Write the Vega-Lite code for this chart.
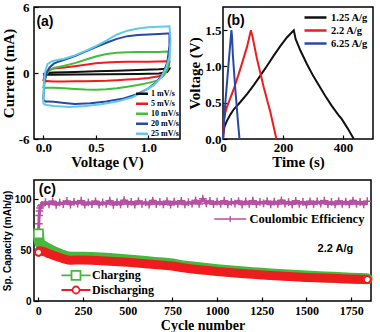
{
  "$schema": "https://vega.github.io/schema/vega-lite/v6.json",
  "background": "white",
  "padding": {"left": 0, "top": 0, "right": 0, "bottom": 0},
  "config": {
    "view": {"stroke": "black", "strokeWidth": 1.5},
    "axis": {
      "domain": false, "grid": false, "tickColor": "black", "tickWidth": 1.2, "tickSize": -4,
      "labelFont": "Liberation Serif", "labelFontWeight": "bold", "labelColor": "black", "labelFontSize": 13,
      "titleFont": "Liberation Serif", "titleFontWeight": "bold", "titleColor": "black", "titleFontSize": 15,
      "labelOverlap": false, "labelFlush": false
    },
    "legend": {"padding": 0, "labelFont": "Liberation Serif", "labelFontWeight": "bold", "labelColor": "black", "titlePadding": 0}
  },
  "datasets": {
    "cv": [
      {"rate": "1 mV/s", "k": 0, "v": 0, "i": -0.15}, {"rate": "1 mV/s", "k": 1, "v": 0.02, "i": 0.0}, {"rate": "1 mV/s", "k": 2, "v": 0.1, "i": 0.05}, {"rate": "1 mV/s", "k": 3, "v": 0.3, "i": 0.1}, {"rate": "1 mV/s", "k": 4, "v": 0.5, "i": 0.15}, {"rate": "1 mV/s", "k": 5, "v": 0.7, "i": 0.2}, {"rate": "1 mV/s", "k": 6, "v": 0.9, "i": 0.27}, {"rate": "1 mV/s", "k": 7, "v": 1.1, "i": 0.34}, {"rate": "1 mV/s", "k": 8, "v": 1.2, "i": 0.4}, {"rate": "1 mV/s", "k": 9, "v": 1.18, "i": 0.1}, {"rate": "1 mV/s", "k": 10, "v": 1.1, "i": -0.04}, {"rate": "1 mV/s", "k": 11, "v": 0.9, "i": -0.08}, {"rate": "1 mV/s", "k": 12, "v": 0.6, "i": -0.11}, {"rate": "1 mV/s", "k": 13, "v": 0.3, "i": -0.14}, {"rate": "1 mV/s", "k": 14, "v": 0.1, "i": -0.17}, {"rate": "1 mV/s", "k": 15, "v": 0, "i": -0.15},

      {"rate": "5 mV/s", "k": 0, "v": 0, "i": -0.75}, {"rate": "5 mV/s", "k": 1, "v": 0.01, "i": -0.3}, {"rate": "5 mV/s", "k": 2, "v": 0.03, "i": 0.1}, {"rate": "5 mV/s", "k": 3, "v": 0.06, "i": 0.3}, {"rate": "5 mV/s", "k": 4, "v": 0.1, "i": 0.4}, {"rate": "5 mV/s", "k": 5, "v": 0.2, "i": 0.5}, {"rate": "5 mV/s", "k": 6, "v": 0.3, "i": 0.62}, {"rate": "5 mV/s", "k": 7, "v": 0.4, "i": 0.75}, {"rate": "5 mV/s", "k": 8, "v": 0.5, "i": 0.88}, {"rate": "5 mV/s", "k": 9, "v": 0.6, "i": 0.95}, {"rate": "5 mV/s", "k": 10, "v": 0.7, "i": 1.0}, {"rate": "5 mV/s", "k": 11, "v": 0.8, "i": 1.02}, {"rate": "5 mV/s", "k": 12, "v": 0.9, "i": 1.02}, {"rate": "5 mV/s", "k": 13, "v": 1.0, "i": 1.03}, {"rate": "5 mV/s", "k": 14, "v": 1.1, "i": 1.05}, {"rate": "5 mV/s", "k": 15, "v": 1.17, "i": 1.06}, {"rate": "5 mV/s", "k": 16, "v": 1.2, "i": 1.0}, {"rate": "5 mV/s", "k": 17, "v": 1.19, "i": 0.5}, {"rate": "5 mV/s", "k": 18, "v": 1.16, "i": 0.0}, {"rate": "5 mV/s", "k": 19, "v": 1.1, "i": -0.3}, {"rate": "5 mV/s", "k": 20, "v": 1.0, "i": -0.45}, {"rate": "5 mV/s", "k": 21, "v": 0.9, "i": -0.55}, {"rate": "5 mV/s", "k": 22, "v": 0.8, "i": -0.6}, {"rate": "5 mV/s", "k": 23, "v": 0.7, "i": -0.65}, {"rate": "5 mV/s", "k": 24, "v": 0.6, "i": -0.7}, {"rate": "5 mV/s", "k": 25, "v": 0.5, "i": -0.72}, {"rate": "5 mV/s", "k": 26, "v": 0.4, "i": -0.74}, {"rate": "5 mV/s", "k": 27, "v": 0.3, "i": -0.76}, {"rate": "5 mV/s", "k": 28, "v": 0.2, "i": -0.78}, {"rate": "5 mV/s", "k": 29, "v": 0.1, "i": -0.77}, {"rate": "5 mV/s", "k": 30, "v": 0.03, "i": -0.72}, {"rate": "5 mV/s", "k": 31, "v": 0, "i": -0.75},

      {"rate": "10 mV/s", "k": 0, "v": 0, "i": -1.4}, {"rate": "10 mV/s", "k": 1, "v": 0.01, "i": -0.7}, {"rate": "10 mV/s", "k": 2, "v": 0.03, "i": -0.1}, {"rate": "10 mV/s", "k": 3, "v": 0.06, "i": 0.25}, {"rate": "10 mV/s", "k": 4, "v": 0.1, "i": 0.45}, {"rate": "10 mV/s", "k": 5, "v": 0.2, "i": 0.66}, {"rate": "10 mV/s", "k": 6, "v": 0.3, "i": 0.9}, {"rate": "10 mV/s", "k": 7, "v": 0.4, "i": 1.2}, {"rate": "10 mV/s", "k": 8, "v": 0.5, "i": 1.5}, {"rate": "10 mV/s", "k": 9, "v": 0.6, "i": 1.72}, {"rate": "10 mV/s", "k": 10, "v": 0.7, "i": 1.83}, {"rate": "10 mV/s", "k": 11, "v": 0.8, "i": 1.88}, {"rate": "10 mV/s", "k": 12, "v": 0.9, "i": 1.9}, {"rate": "10 mV/s", "k": 13, "v": 1.0, "i": 1.9}, {"rate": "10 mV/s", "k": 14, "v": 1.1, "i": 1.9}, {"rate": "10 mV/s", "k": 15, "v": 1.17, "i": 1.95}, {"rate": "10 mV/s", "k": 16, "v": 1.2, "i": 1.9}, {"rate": "10 mV/s", "k": 17, "v": 1.2, "i": 1.2}, {"rate": "10 mV/s", "k": 18, "v": 1.18, "i": 0.3}, {"rate": "10 mV/s", "k": 19, "v": 1.14, "i": -0.3}, {"rate": "10 mV/s", "k": 20, "v": 1.08, "i": -0.7}, {"rate": "10 mV/s", "k": 21, "v": 1.0, "i": -0.9}, {"rate": "10 mV/s", "k": 22, "v": 0.9, "i": -1.1}, {"rate": "10 mV/s", "k": 23, "v": 0.8, "i": -1.25}, {"rate": "10 mV/s", "k": 24, "v": 0.7, "i": -1.38}, {"rate": "10 mV/s", "k": 25, "v": 0.6, "i": -1.47}, {"rate": "10 mV/s", "k": 26, "v": 0.5, "i": -1.52}, {"rate": "10 mV/s", "k": 27, "v": 0.4, "i": -1.5}, {"rate": "10 mV/s", "k": 28, "v": 0.3, "i": -1.45}, {"rate": "10 mV/s", "k": 29, "v": 0.2, "i": -1.38}, {"rate": "10 mV/s", "k": 30, "v": 0.1, "i": -1.35}, {"rate": "10 mV/s", "k": 31, "v": 0.03, "i": -1.35}, {"rate": "10 mV/s", "k": 32, "v": 0, "i": -1.4},

      {"rate": "20 mV/s", "k": 0, "v": 0, "i": -2.4}, {"rate": "20 mV/s", "k": 1, "v": 0.01, "i": -1.0}, {"rate": "20 mV/s", "k": 2, "v": 0.03, "i": 0.0}, {"rate": "20 mV/s", "k": 3, "v": 0.06, "i": 0.5}, {"rate": "20 mV/s", "k": 4, "v": 0.1, "i": 0.85}, {"rate": "20 mV/s", "k": 5, "v": 0.15, "i": 1.05}, {"rate": "20 mV/s", "k": 6, "v": 0.2, "i": 1.2}, {"rate": "20 mV/s", "k": 7, "v": 0.3, "i": 1.55}, {"rate": "20 mV/s", "k": 8, "v": 0.4, "i": 1.95}, {"rate": "20 mV/s", "k": 9, "v": 0.5, "i": 2.35}, {"rate": "20 mV/s", "k": 10, "v": 0.6, "i": 2.75}, {"rate": "20 mV/s", "k": 11, "v": 0.7, "i": 3.1}, {"rate": "20 mV/s", "k": 12, "v": 0.8, "i": 3.35}, {"rate": "20 mV/s", "k": 13, "v": 0.9, "i": 3.45}, {"rate": "20 mV/s", "k": 14, "v": 1.0, "i": 3.5}, {"rate": "20 mV/s", "k": 15, "v": 1.1, "i": 3.55}, {"rate": "20 mV/s", "k": 16, "v": 1.18, "i": 3.6}, {"rate": "20 mV/s", "k": 17, "v": 1.2, "i": 3.6}, {"rate": "20 mV/s", "k": 18, "v": 1.2, "i": 2.5}, {"rate": "20 mV/s", "k": 19, "v": 1.18, "i": 1.0}, {"rate": "20 mV/s", "k": 20, "v": 1.14, "i": 0.0}, {"rate": "20 mV/s", "k": 21, "v": 1.08, "i": -0.8}, {"rate": "20 mV/s", "k": 22, "v": 1.0, "i": -1.4}, {"rate": "20 mV/s", "k": 23, "v": 0.9, "i": -1.9}, {"rate": "20 mV/s", "k": 24, "v": 0.75, "i": -2.35}, {"rate": "20 mV/s", "k": 25, "v": 0.6, "i": -2.6}, {"rate": "20 mV/s", "k": 26, "v": 0.45, "i": -2.75}, {"rate": "20 mV/s", "k": 27, "v": 0.3, "i": -2.82}, {"rate": "20 mV/s", "k": 28, "v": 0.2, "i": -2.72}, {"rate": "20 mV/s", "k": 29, "v": 0.1, "i": -2.62}, {"rate": "20 mV/s", "k": 30, "v": 0.05, "i": -2.6}, {"rate": "20 mV/s", "k": 31, "v": 0.02, "i": -2.6}, {"rate": "20 mV/s", "k": 32, "v": 0, "i": -2.4},

      {"rate": "25 mV/s", "k": 0, "v": 0, "i": -2.8}, {"rate": "25 mV/s", "k": 1, "v": 0.005, "i": -1.5}, {"rate": "25 mV/s", "k": 2, "v": 0.015, "i": 0.0}, {"rate": "25 mV/s", "k": 3, "v": 0.04, "i": 0.8}, {"rate": "25 mV/s", "k": 4, "v": 0.08, "i": 1.05}, {"rate": "25 mV/s", "k": 5, "v": 0.12, "i": 1.15}, {"rate": "25 mV/s", "k": 6, "v": 0.2, "i": 1.3}, {"rate": "25 mV/s", "k": 7, "v": 0.3, "i": 1.6}, {"rate": "25 mV/s", "k": 8, "v": 0.4, "i": 2.0}, {"rate": "25 mV/s", "k": 9, "v": 0.5, "i": 2.45}, {"rate": "25 mV/s", "k": 10, "v": 0.6, "i": 2.95}, {"rate": "25 mV/s", "k": 11, "v": 0.7, "i": 3.5}, {"rate": "25 mV/s", "k": 12, "v": 0.8, "i": 3.85}, {"rate": "25 mV/s", "k": 13, "v": 0.9, "i": 4.05}, {"rate": "25 mV/s", "k": 14, "v": 1.0, "i": 4.15}, {"rate": "25 mV/s", "k": 15, "v": 1.1, "i": 4.2}, {"rate": "25 mV/s", "k": 16, "v": 1.2, "i": 4.25}, {"rate": "25 mV/s", "k": 17, "v": 1.21, "i": 3.0}, {"rate": "25 mV/s", "k": 18, "v": 1.2, "i": 1.5}, {"rate": "25 mV/s", "k": 19, "v": 1.17, "i": 0.5}, {"rate": "25 mV/s", "k": 20, "v": 1.12, "i": -0.4}, {"rate": "25 mV/s", "k": 21, "v": 1.05, "i": -1.1}, {"rate": "25 mV/s", "k": 22, "v": 0.95, "i": -1.7}, {"rate": "25 mV/s", "k": 23, "v": 0.85, "i": -2.2}, {"rate": "25 mV/s", "k": 24, "v": 0.7, "i": -2.6}, {"rate": "25 mV/s", "k": 25, "v": 0.55, "i": -2.85}, {"rate": "25 mV/s", "k": 26, "v": 0.4, "i": -3.0}, {"rate": "25 mV/s", "k": 27, "v": 0.25, "i": -3.08}, {"rate": "25 mV/s", "k": 28, "v": 0.1, "i": -3.0}, {"rate": "25 mV/s", "k": 29, "v": 0.03, "i": -2.9}, {"rate": "25 mV/s", "k": 30, "v": 0, "i": -2.8}
    ],
    "gcd": [
      {"cur": "1.25 A/g", "k": 0, "t": 0, "v": 0}, {"cur": "1.25 A/g", "k": 1, "t": 2, "v": 0.1}, {"cur": "1.25 A/g", "k": 2, "t": 5, "v": 0.17}, {"cur": "1.25 A/g", "k": 3, "t": 13, "v": 0.25}, {"cur": "1.25 A/g", "k": 4, "t": 25, "v": 0.34}, {"cur": "1.25 A/g", "k": 5, "t": 36, "v": 0.41}, {"cur": "1.25 A/g", "k": 6, "t": 58, "v": 0.51}, {"cur": "1.25 A/g", "k": 7, "t": 80, "v": 0.62}, {"cur": "1.25 A/g", "k": 8, "t": 102, "v": 0.74}, {"cur": "1.25 A/g", "k": 9, "t": 124, "v": 0.87}, {"cur": "1.25 A/g", "k": 10, "t": 147, "v": 1.01}, {"cur": "1.25 A/g", "k": 11, "t": 169, "v": 1.15}, {"cur": "1.25 A/g", "k": 12, "t": 191, "v": 1.28}, {"cur": "1.25 A/g", "k": 13, "t": 213, "v": 1.4}, {"cur": "1.25 A/g", "k": 14, "t": 236, "v": 1.5}, {"cur": "1.25 A/g", "k": 15, "t": 238, "v": 1.46}, {"cur": "1.25 A/g", "k": 16, "t": 242, "v": 1.38}, {"cur": "1.25 A/g", "k": 17, "t": 258, "v": 1.22}, {"cur": "1.25 A/g", "k": 18, "t": 280, "v": 1.03}, {"cur": "1.25 A/g", "k": 19, "t": 302, "v": 0.86}, {"cur": "1.25 A/g", "k": 20, "t": 318, "v": 0.75}, {"cur": "1.25 A/g", "k": 21, "t": 340, "v": 0.6}, {"cur": "1.25 A/g", "k": 22, "t": 362, "v": 0.46}, {"cur": "1.25 A/g", "k": 23, "t": 385, "v": 0.33}, {"cur": "1.25 A/g", "k": 24, "t": 395, "v": 0.28}, {"cur": "1.25 A/g", "k": 25, "t": 415, "v": 0.15}, {"cur": "1.25 A/g", "k": 26, "t": 436, "v": 0},
      {"cur": "2.2 A/g", "k": 0, "t": 0, "v": 0}, {"cur": "2.2 A/g", "k": 1, "t": 2, "v": 0.2}, {"cur": "2.2 A/g", "k": 2, "t": 4, "v": 0.28}, {"cur": "2.2 A/g", "k": 3, "t": 8, "v": 0.37}, {"cur": "2.2 A/g", "k": 4, "t": 13, "v": 0.44}, {"cur": "2.2 A/g", "k": 5, "t": 24, "v": 0.56}, {"cur": "2.2 A/g", "k": 6, "t": 36, "v": 0.69}, {"cur": "2.2 A/g", "k": 7, "t": 58, "v": 0.97}, {"cur": "2.2 A/g", "k": 8, "t": 80, "v": 1.27}, {"cur": "2.2 A/g", "k": 9, "t": 93, "v": 1.5}, {"cur": "2.2 A/g", "k": 10, "t": 95, "v": 1.46}, {"cur": "2.2 A/g", "k": 11, "t": 98, "v": 1.42}, {"cur": "2.2 A/g", "k": 12, "t": 113, "v": 1.11}, {"cur": "2.2 A/g", "k": 13, "t": 136, "v": 0.71}, {"cur": "2.2 A/g", "k": 14, "t": 158, "v": 0.37}, {"cur": "2.2 A/g", "k": 15, "t": 178, "v": 0},
      {"cur": "6.25 A/g", "k": 0, "t": 0, "v": 0}, {"cur": "6.25 A/g", "k": 1, "t": 3, "v": 0.2}, {"cur": "6.25 A/g", "k": 2, "t": 7, "v": 0.46}, {"cur": "6.25 A/g", "k": 3, "t": 19, "v": 1.06}, {"cur": "6.25 A/g", "k": 4, "t": 28, "v": 1.5}, {"cur": "6.25 A/g", "k": 5, "t": 30, "v": 1.42}, {"cur": "6.25 A/g", "k": 6, "t": 33, "v": 1.15}, {"cur": "6.25 A/g", "k": 7, "t": 41, "v": 0.69}, {"cur": "6.25 A/g", "k": 8, "t": 49, "v": 0.28}, {"cur": "6.25 A/g", "k": 9, "t": 55, "v": 0}
    ],
    "cap": [
      {"cycle": 1, "charging": 66, "discharging": 48}, {"cycle": 5, "charging": 59, "discharging": 49.5}, {"cycle": 10, "charging": 56.5, "discharging": 49.5}, {"cycle": 20, "charging": 55, "discharging": 49}, {"cycle": 30, "charging": 53.8, "discharging": 48.5}, {"cycle": 40, "charging": 52.8, "discharging": 48}, {"cycle": 50, "charging": 51.8, "discharging": 47.2}, {"cycle": 60, "charging": 50.9, "discharging": 46.5}, {"cycle": 70, "charging": 50, "discharging": 45.9}, {"cycle": 80, "charging": 49.1, "discharging": 45.2}, {"cycle": 90, "charging": 48.3, "discharging": 44.6}, {"cycle": 100, "charging": 47.5, "discharging": 44}, {"cycle": 110, "charging": 46.8, "discharging": 43.4}, {"cycle": 120, "charging": 46.1, "discharging": 42.8}, {"cycle": 130, "charging": 45.4, "discharging": 42.2}, {"cycle": 140, "charging": 44.7, "discharging": 41.6}, {"cycle": 150, "charging": 44.1, "discharging": 41.1}, {"cycle": 160, "charging": 43.6, "discharging": 40.6}, {"cycle": 170, "charging": 43.2, "discharging": 40.2}, {"cycle": 180, "charging": 43, "discharging": 40}, {"cycle": 190, "charging": 43, "discharging": 40.1}, {"cycle": 200, "charging": 43.1, "discharging": 40.3}, {"cycle": 250, "charging": 43.1, "discharging": 40.4}, {"cycle": 300, "charging": 42.7, "discharging": 40.1}, {"cycle": 350, "charging": 42.2, "discharging": 39.7}, {"cycle": 400, "charging": 41.7, "discharging": 39.2}, {"cycle": 450, "charging": 41.1, "discharging": 38.7}, {"cycle": 500, "charging": 40.4, "discharging": 38.1}, {"cycle": 550, "charging": 39.6, "discharging": 37.4}, {"cycle": 600, "charging": 38.8, "discharging": 36.6}, {"cycle": 650, "charging": 38, "discharging": 35.9}, {"cycle": 700, "charging": 37.3, "discharging": 35.2}, {"cycle": 750, "charging": 36.4, "discharging": 34.4}, {"cycle": 800, "charging": 34.8, "discharging": 32.9}, {"cycle": 850, "charging": 33.7, "discharging": 31.8}, {"cycle": 900, "charging": 32.7, "discharging": 30.8}, {"cycle": 950, "charging": 31.7, "discharging": 29.9}, {"cycle": 1000, "charging": 30.8, "discharging": 29}, {"cycle": 1050, "charging": 30, "discharging": 28.3}, {"cycle": 1100, "charging": 29.3, "discharging": 27.6}, {"cycle": 1150, "charging": 28.6, "discharging": 26.9}, {"cycle": 1200, "charging": 27.9, "discharging": 26.3}, {"cycle": 1250, "charging": 27.2, "discharging": 25.6}, {"cycle": 1300, "charging": 26.6, "discharging": 25}, {"cycle": 1350, "charging": 26, "discharging": 24.5}, {"cycle": 1400, "charging": 25.5, "discharging": 24}, {"cycle": 1450, "charging": 25, "discharging": 23.6}, {"cycle": 1500, "charging": 24.5, "discharging": 23.2}, {"cycle": 1550, "charging": 24.1, "discharging": 22.9}, {"cycle": 1600, "charging": 23.7, "discharging": 22.6}, {"cycle": 1650, "charging": 23.3, "discharging": 22.3}, {"cycle": 1700, "charging": 22.9, "discharging": 22}, {"cycle": 1750, "charging": 22.5, "discharging": 21.7}, {"cycle": 1800, "charging": 22.1, "discharging": 21.4}, {"cycle": 1840, "charging": 21.8, "discharging": 21.2}
    ],
    "ce": [
      {"cycle": 1, "ce": 64}, {"cycle": 3, "ce": 76}, {"cycle": 5, "ce": 84}, {"cycle": 7, "ce": 88.5}, {"cycle": 10, "ce": 91.5}, {"cycle": 14, "ce": 93.5},
      {"cycle": 20, "ce": 94.5}, {"cycle": 40, "ce": 97.2}, {"cycle": 60, "ce": 95.1}, {"cycle": 80, "ce": 98.0}, {"cycle": 100, "ce": 94.6}, {"cycle": 120, "ce": 96.8}, {"cycle": 140, "ce": 95.3}, {"cycle": 160, "ce": 98.4}, {"cycle": 180, "ce": 94.9}, {"cycle": 200, "ce": 97.5},
      {"cycle": 220, "ce": 95.8}, {"cycle": 240, "ce": 98.6}, {"cycle": 260, "ce": 94.7}, {"cycle": 280, "ce": 97.0}, {"cycle": 300, "ce": 95.2}, {"cycle": 320, "ce": 98.1}, {"cycle": 340, "ce": 94.8}, {"cycle": 360, "ce": 96.9}, {"cycle": 380, "ce": 95.5}, {"cycle": 400, "ce": 98.7},
      {"cycle": 420, "ce": 94.6}, {"cycle": 440, "ce": 97.3}, {"cycle": 460, "ce": 95.0}, {"cycle": 480, "ce": 99.2}, {"cycle": 500, "ce": 95.4}, {"cycle": 520, "ce": 97.6}, {"cycle": 540, "ce": 94.9}, {"cycle": 560, "ce": 98.3}, {"cycle": 580, "ce": 95.6}, {"cycle": 600, "ce": 97.1},
      {"cycle": 620, "ce": 94.8}, {"cycle": 640, "ce": 98.8}, {"cycle": 660, "ce": 95.3}, {"cycle": 680, "ce": 97.4}, {"cycle": 700, "ce": 95.1}, {"cycle": 720, "ce": 98.2}, {"cycle": 740, "ce": 94.7}, {"cycle": 760, "ce": 97.8}, {"cycle": 780, "ce": 95.5}, {"cycle": 800, "ce": 98.5},
      {"cycle": 820, "ce": 95.0}, {"cycle": 840, "ce": 97.2}, {"cycle": 860, "ce": 95.7}, {"cycle": 880, "ce": 98.9}, {"cycle": 900, "ce": 95.4}, {"cycle": 920, "ce": 100.6}, {"cycle": 940, "ce": 96.0}, {"cycle": 960, "ce": 98.4}, {"cycle": 980, "ce": 95.2}, {"cycle": 1000, "ce": 97.7},
      {"cycle": 1020, "ce": 95.6}, {"cycle": 1040, "ce": 98.6}, {"cycle": 1060, "ce": 95.1}, {"cycle": 1080, "ce": 97.5}, {"cycle": 1100, "ce": 95.8}, {"cycle": 1120, "ce": 98.3}, {"cycle": 1140, "ce": 94.9}, {"cycle": 1160, "ce": 97.9}, {"cycle": 1180, "ce": 95.5}, {"cycle": 1200, "ce": 98.7},
      {"cycle": 1220, "ce": 95.2}, {"cycle": 1240, "ce": 97.4}, {"cycle": 1260, "ce": 95.9}, {"cycle": 1280, "ce": 98.2}, {"cycle": 1300, "ce": 95.0}, {"cycle": 1320, "ce": 97.8}, {"cycle": 1340, "ce": 95.4}, {"cycle": 1360, "ce": 99.0}, {"cycle": 1380, "ce": 95.7}, {"cycle": 1400, "ce": 97.3},
      {"cycle": 1420, "ce": 95.1}, {"cycle": 1440, "ce": 98.5}, {"cycle": 1460, "ce": 95.6}, {"cycle": 1480, "ce": 97.6}, {"cycle": 1500, "ce": 94.9}, {"cycle": 1520, "ce": 98.1}, {"cycle": 1540, "ce": 95.3}, {"cycle": 1560, "ce": 97.9}, {"cycle": 1580, "ce": 95.8}, {"cycle": 1600, "ce": 98.6},
      {"cycle": 1620, "ce": 95.2}, {"cycle": 1640, "ce": 97.4}, {"cycle": 1660, "ce": 95.0}, {"cycle": 1680, "ce": 98.3}, {"cycle": 1700, "ce": 95.5}, {"cycle": 1720, "ce": 97.7}, {"cycle": 1740, "ce": 95.1}, {"cycle": 1760, "ce": 98.8}, {"cycle": 1780, "ce": 95.4}, {"cycle": 1800, "ce": 97.5},
      {"cycle": 1820, "ce": 95.0}, {"cycle": 1840, "ce": 98.2}
    ],
    "labels_a": [{"label": "(a)", "v": -0.065, "i": 4.67}],
    "labels_b": [{"label": "(b)", "t": 13, "v": 1.63}],
    "labels_c": [{"label": "(c)", "cycle": 3, "y": 109}],
    "note_c": [{"label": "2.2 A/g", "cycle": 1662, "y": 51}]
  },
  "spacing": 9,
  "bounds": "full",
  "resolve": {"scale": {"color": "independent"}},
  "vconcat": [
    {
      "spacing": 43,
      "bounds": "flush",
      "resolve": {"scale": {"color": "independent"}},
      "hconcat": [
        {
          "width": 146,
          "height": 132,
          "layer": [
            {
              "data": {"name": "cv"},
              "mark": {"type": "line", "strokeWidth": 2},
              "encoding": {
                "x": {"field": "v", "type": "quantitative", "title": "Voltage (V)",
                      "scale": {"domain": [-0.088, 1.3], "nice": false, "zero": false},
                      "axis": {"values": [0, 0.25, 0.5, 0.75, 1, 1.25], "labelExpr": "datum.value % 0.5 == 0 ? format(datum.value, '.1f') : ''", "labelPadding": 6, "titlePadding": 0}},
                "y": {"field": "i", "type": "quantitative", "title": "Current (mA)",
                      "scale": {"domain": [-6, 6], "nice": false},
                      "axis": {"values": [-6, -4.5, -3, -1.5, 0, 1.5, 3, 4.5, 6], "labelExpr": "datum.value % 3 == 0 ? '' + datum.value : ''", "labelPadding": 9, "titlePadding": 2}},
                "order": {"field": "k", "type": "quantitative"},
                "color": {"field": "rate", "type": "nominal",
                          "scale": {"domain": ["1 mV/s", "5 mV/s", "10 mV/s", "20 mV/s", "25 mV/s"], "range": ["#111111", "#ee1d1d", "#3fbf3a", "#2a48a8", "#5fcbe9"]},
                          "legend": {"title": null, "orient": "none", "legendX": 104, "legendY": 82.75, "labelFontSize": 8, "labelOffset": 5, "rowPadding": 0,
                                     "symbolType": "M-2.4,0H2.4", "symbolSize": 25, "symbolStrokeWidth": 2.5,
                                     "encode": {"symbols": {"update": {"strokeWidth": {"value": 2.5}}}}}}
              }
            },
            {
              "data": {"name": "labels_a"},
              "mark": {"type": "text", "font": "Liberation Sans", "fontWeight": "bold", "fontSize": 14, "align": "left", "baseline": "middle", "color": "black"},
              "encoding": {
                "x": {"field": "v", "type": "quantitative"},
                "y": {"field": "i", "type": "quantitative"},
                "text": {"field": "label"}
              }
            }
          ]
        },
        {
          "width": 150,
          "height": 132,
          "layer": [
            {
              "data": {"name": "gcd"},
              "mark": {"type": "line", "strokeWidth": 2},
              "encoding": {
                "x": {"field": "t", "type": "quantitative", "title": "Time (s)",
                      "scale": {"domain": [0, 500], "nice": false},
                      "axis": {"values": [0, 50, 100, 150, 200, 250, 300, 350, 400, 450, 500], "labelExpr": "datum.value % 100 == 0 ? '' + datum.value : ''", "labelPadding": 6, "titlePadding": 0,
                               "labelAlign": {"condition": {"test": "datum.value == 500", "value": "right"}, "value": "center"}}},
                "y": {"field": "v", "type": "quantitative", "title": "Voltage (V)",
                      "scale": {"domain": [0, 1.82], "nice": false},
                      "axis": {"values": [0, 0.25, 0.5, 0.75, 1, 1.25, 1.5, 1.75], "labelExpr": "datum.value % 0.5 == 0 ? format(datum.value, '.1f') : ''", "labelPadding": 6, "titlePadding": 2}},
                "order": {"field": "k", "type": "quantitative"},
                "color": {"field": "cur", "type": "nominal",
                          "scale": {"domain": ["1.25 A/g", "2.2 A/g", "6.25 A/g"], "range": ["#111111", "#ee1d1d", "#2a48a8"]},
                          "legend": {"title": null, "orient": "none", "legendX": 85.5, "legendY": 3.5, "labelFontSize": 10.5, "labelOffset": 8.5, "rowPadding": 0,
                                     "symbolType": "M-2,0H2", "symbolSize": 121, "symbolStrokeWidth": 2.5,
                                     "encode": {"symbols": {"update": {"strokeWidth": {"value": 2.5}}}}}}
              }
            },
            {
              "data": {"name": "labels_b"},
              "mark": {"type": "text", "font": "Liberation Sans", "fontWeight": "bold", "fontSize": 14, "align": "left", "baseline": "middle", "color": "black"},
              "encoding": {
                "x": {"field": "t", "type": "quantitative"},
                "y": {"field": "v", "type": "quantitative"},
                "text": {"field": "label"}
              }
            }
          ]
        }
      ]
    },
    {
      "width": 337,
      "height": 121,
      "resolve": {"scale": {"color": "independent"}},
      "layer": [
        {
          "data": {"name": "ce"},
          "mark": {"type": "line", "strokeWidth": 3},
          "encoding": {
            "x": {"field": "cycle", "type": "quantitative", "title": "Cycle number",
                  "scale": {"domain": [-24, 1861], "nice": false, "zero": false},
                  "axis": {"values": [0, 125, 250, 375, 500, 625, 750, 875, 1000, 1125, 1250, 1375, 1500, 1625, 1750], "labelExpr": "datum.value % 250 == 0 ? '' + datum.value : ''", "labelFontSize": 12, "labelPadding": 8, "titleFontSize": 14, "titlePadding": 2}},
            "y": {"field": "ce", "type": "quantitative", "title": "Sp. Capacity (mAh/g)",
                  "scale": {"domain": [0, 119], "nice": false},
                  "axis": {"values": [0, 12.5, 25, 37.5, 50, 62.5, 75, 87.5, 100, 112.5], "labelExpr": "datum.value % 25 == 0 ? '' + datum.value : ''",
                           "labelFont": "Liberation Sans", "labelFontSize": 10, "titleFont": "Liberation Sans", "titleFontSize": 10, "labelPadding": 7, "titlePadding": 2}},
            "color": {"datum": "Coulombic Efficiency", "type": "nominal",
                      "scale": {"range": ["#b5529f"]},
                      "legend": {"title": null, "orient": "none", "legendX": 190, "legendY": 32.75, "labelFontSize": 12.5, "labelOffset": 13,
                                 "symbolType": "M-3.2,0H3.2M0,-0.6V0.6", "symbolSize": 100,
                                 "encode": {"symbols": {"update": {"strokeWidth": {"value": 1.3}, "fill": {"value": "transparent"}}}}}}
          }
        },
        {
          "data": {"name": "ce"},
          "mark": {"type": "point", "shape": "M-1,0H1M0,-1V1", "size": 60, "filled": false, "stroke": "#b5529f", "strokeWidth": 1.5, "opacity": 1},
          "encoding": {
            "x": {"field": "cycle", "type": "quantitative", "title": "Cycle number"},
            "y": {"field": "ce", "type": "quantitative", "title": "Sp. Capacity (mAh/g)"}
          }
        },
        {
          "data": {"name": "cap"},
          "mark": {"type": "line", "strokeWidth": 11, "strokeCap": "round", "strokeJoin": "round"},
          "encoding": {
            "x": {"field": "cycle", "type": "quantitative", "title": "Cycle number"},
            "y": {"field": "charging", "type": "quantitative", "title": "Sp. Capacity (mAh/g)"},
            "color": {"datum": "Charging", "type": "nominal",
                      "scale": {"range": ["#46b93d"]},
                      "legend": {"title": null, "orient": "none", "legendX": 36, "legendY": 89.3, "labelFontSize": 12, "labelOffset": 10,
                                 "symbolType": "M-2.9,0H-0.9M0.9,0H2.9M-0.9,-0.9H0.9V0.9H-0.9Z", "symbolSize": 100,
                                 "encode": {"symbols": {"update": {"strokeWidth": {"value": 1.8}, "fill": {"value": "white"}, "fillOpacity": {"value": 1}}}}}}
          }
        },
        {
          "data": {"name": "cap"},
          "transform": [{"filter": "datum.cycle == 1"}],
          "mark": {"type": "point", "shape": "square", "size": 81, "filled": true, "fill": "white", "stroke": "#46b93d", "strokeWidth": 1.6, "opacity": 1},
          "encoding": {
            "x": {"field": "cycle", "type": "quantitative", "title": "Cycle number"},
            "y": {"field": "charging", "type": "quantitative", "title": "Sp. Capacity (mAh/g)"}
          }
        },
        {
          "data": {"name": "cap"},
          "mark": {"type": "line", "strokeWidth": 9, "strokeCap": "round", "strokeJoin": "round"},
          "encoding": {
            "x": {"field": "cycle", "type": "quantitative", "title": "Cycle number"},
            "y": {"field": "discharging", "type": "quantitative", "title": "Sp. Capacity (mAh/g)"},
            "color": {"datum": "Discharging", "type": "nominal",
                      "scale": {"range": ["#ee1d1d"]},
                      "legend": {"title": null, "orient": "none", "legendX": 36, "legendY": 104, "labelFontSize": 12, "labelOffset": 10,
                                 "symbolType": "M-2.9,0H-0.7M0.7,0H2.9M0.7,0C0.7,0.387 0.387,0.7 0,0.7C-0.387,0.7 -0.7,0.387 -0.7,0C-0.7,-0.387 -0.387,-0.7 0,-0.7C0.387,-0.7 0.7,-0.387 0.7,0Z", "symbolSize": 100,
                                 "encode": {"symbols": {"update": {"strokeWidth": {"value": 1.8}, "fill": {"value": "white"}, "fillOpacity": {"value": 1}}}}}}
          }
        },
        {
          "data": {"name": "cap"},
          "transform": [{"filter": "datum.cycle == 1 || datum.cycle == 1840"}],
          "mark": {"type": "point", "shape": "circle", "size": 45, "filled": true, "fill": "white", "stroke": "#ee1d1d", "strokeWidth": 1.8, "opacity": 1},
          "encoding": {
            "x": {"field": "cycle", "type": "quantitative", "title": "Cycle number"},
            "y": {"field": "discharging", "type": "quantitative", "title": "Sp. Capacity (mAh/g)"}
          }
        },
        {
          "data": {"name": "labels_c"},
          "mark": {"type": "text", "font": "Liberation Sans", "fontWeight": "bold", "fontSize": 14, "align": "left", "baseline": "middle", "color": "black"},
          "encoding": {
            "x": {"field": "cycle", "type": "quantitative", "title": "Cycle number"},
            "y": {"field": "y", "type": "quantitative", "title": "Sp. Capacity (mAh/g)"},
            "text": {"field": "label"}
          }
        },
        {
          "data": {"name": "note_c"},
          "mark": {"type": "text", "font": "Liberation Sans", "fontWeight": "bold", "fontSize": 11, "align": "center", "baseline": "middle", "color": "black"},
          "encoding": {
            "x": {"field": "cycle", "type": "quantitative", "title": "Cycle number"},
            "y": {"field": "y", "type": "quantitative", "title": "Sp. Capacity (mAh/g)"},
            "text": {"field": "label"}
          }
        }
      ]
    }
  ]
}
